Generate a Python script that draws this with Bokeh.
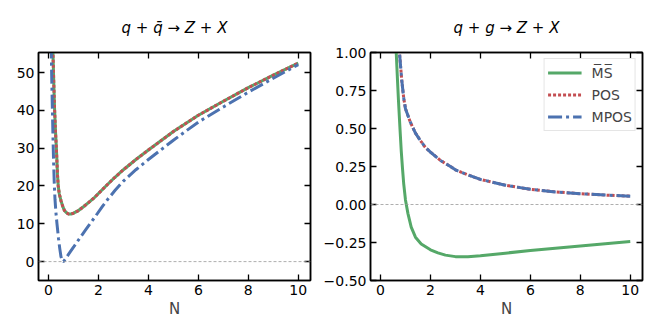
from bokeh.plotting import figure
from bokeh.layouts import row
from bokeh.models import (Range1d, FixedTicker, LinearAxis, Span, Legend, LegendItem,
                          CustomLabelingPolicy)
from bokeh.embed import file_html
from bokeh.resources import INLINE

# ---------------- data ----------------
# q + qbar -> Z + X
N_qq_ms = [0.16, 0.18, 0.2, 0.24, 0.28, 0.32, 0.36, 0.39, 0.43, 0.5, 0.57, 0.64, 0.72, 0.8,
           0.9, 1.0, 1.2, 1.4, 1.6, 1.85, 2.0, 2.3, 2.66, 3.0, 3.5, 4.0, 5.0, 6.0, 7.0, 8.0, 9.0, 10.0]
ms_qq = [60.0, 55.0, 50.0, 41.0, 34.5, 29.4, 23.0, 20.0, 18.0, 16.1, 14.6, 13.5, 12.9, 12.6,
         12.6, 12.8, 13.5, 14.5, 15.6, 17.0, 18.0, 20.0, 22.3, 24.3, 27.0, 29.5, 34.4, 38.7, 42.4, 46.0, 49.3, 52.5]
N_qq_pos = N_qq_ms
pos_qq = [60.0, 55.0, 50.0, 41.0, 34.5, 29.4, 23.0, 20.0, 18.0, 16.1, 14.6, 13.5, 12.9, 12.6,
          12.6, 12.8, 13.5, 14.5, 15.6, 17.0, 18.0, 20.0, 22.3, 24.3, 27.0, 29.5, 34.4, 38.7, 42.4, 46.0, 49.3, 52.5]
N_qq_mpos = [0.1, 0.12, 0.15, 0.18, 0.2, 0.23, 0.26, 0.3, 0.34, 0.4, 0.45, 0.5, 0.55, 0.6, 0.7, 0.8,
             1.0, 1.25, 1.5, 1.85, 2.16, 2.4, 2.66, 3.0, 3.5, 4.0, 5.0, 6.0, 7.0, 8.0, 9.0, 10.0]
mpos_qq = [64.0, 52.0, 42.0, 33.0, 27.5, 21.0, 16.5, 12.8, 10.0, 6.2, 3.5, 1.3, 0.2, 0.0, 0.9, 1.9,
           3.8, 6.2, 8.5, 11.7, 14.6, 16.7, 18.8, 21.3, 24.3, 27.0, 32.1, 36.9, 40.9, 44.8, 48.5, 52.1]

# q + g -> Z + X
N_qg_ms = [0.6, 0.63, 0.68, 0.72, 0.78, 0.83, 0.88, 0.93, 1.0, 1.1, 1.23, 1.4, 1.63, 2.0, 2.3,
           2.6, 3.0, 3.5, 4.0, 5.0, 6.0, 7.0, 8.0, 9.0, 10.0]
ms_qg = [1.12, 1.0, 0.82, 0.684, 0.5, 0.355, 0.24, 0.136, 0.03, -0.06, -0.149, -0.215, -0.26,
         -0.298, -0.318, -0.333, -0.343, -0.344, -0.337, -0.32, -0.303, -0.288, -0.273, -0.258, -0.243]
N_qg_pos = [0.7, 0.76, 0.85, 0.93, 1.0, 1.2, 1.4, 1.6, 1.8, 2.0, 2.4, 2.8, 3.0, 3.5, 4.0, 5.0,
            6.0, 7.0, 8.0, 9.0, 10.0]
pos_qg = [1.15, 1.0, 0.82, 0.70, 0.63, 0.54, 0.47, 0.42, 0.375, 0.345, 0.29, 0.25, 0.228, 0.195,
          0.165, 0.127, 0.100, 0.083, 0.071, 0.062, 0.055]
N_qg_mpos = N_qg_pos
mpos_qg = [1.15, 1.0, 0.82, 0.70, 0.63, 0.54, 0.47, 0.42, 0.375, 0.345, 0.29, 0.25, 0.228, 0.195,
           0.165, 0.127, 0.100, 0.083, 0.071, 0.062, 0.055]

x_ticks = [0, 2, 4, 6, 8, 10]
y_ticks_left = [0, 10, 20, 30, 40, 50]
y_ticks_right = [-0.5, -0.25, 0.0, 0.25, 0.5, 0.75, 1.0]
y_labels_right = ["\u22120.50", "\u22120.25", "0.00", "0.25", "0.50", "0.75", "1.00"]

titles = ["q + q\u0304 \u2192 Z + X", "q + g \u2192 Z + X"]
series_labels = ["M\u0305S\u0305", "POS", "MPOS"]

GREEN = "#55a868"
RED = "#c44e52"
BLUE = "#4c72b0"
FONT = "DejaVu Sans"

HIDE_ALL = CustomLabelingPolicy(code="""
for (const i of Array.from(indices)) { indices.unset(i) }
return indices
""")


def style_axis(ax, ticks, show_labels=True, overrides=None):
    ax.ticker = FixedTicker(ticks=ticks)
    ax.axis_line_color = "black"
    ax.axis_line_width = 1.5
    ax.major_tick_line_color = "black"
    ax.major_tick_line_width = 1.3
    ax.major_tick_in = 6
    ax.major_tick_out = 0
    ax.minor_tick_in = 0
    ax.minor_tick_out = 0
    ax.major_label_text_font = FONT
    ax.major_label_text_color = "black"
    ax.major_label_standoff = 4
    ax.axis_label_text_font = FONT
    ax.axis_label_text_font_style = "normal"
    ax.axis_label_text_font_size = "15px"
    ax.axis_label_standoff = 2
    if show_labels:
        ax.major_label_text_font_size = "14px"
    else:
        ax.major_label_text_font_size = "0px"
        ax.major_label_standoff = 0
        ax.major_label_policy = HIDE_ALL
    if overrides:
        ax.major_label_overrides = overrides


def make_fig(width, border_left, border_right, yr, yticks, title, overrides=None):
    p = figure(width=width, height=324, x_range=Range1d(-0.4, 10.49), y_range=yr,
               output_backend="svg", toolbar_location=None,
               min_border_left=border_left, min_border_right=border_right,
               min_border_top=52, min_border_bottom=44)
    p.xgrid.visible = False
    p.ygrid.visible = False
    p.outline_line_color = "black"
    p.outline_line_width = 1.5
    p.background_fill_color = "white"
    p.border_fill_color = "white"
    style_axis(p.xaxis[0], x_ticks)
    p.xaxis[0].axis_label = "N"
    style_axis(p.yaxis[0], yticks, overrides=overrides)
    top = LinearAxis()
    style_axis(top, x_ticks, show_labels=False)
    p.add_layout(top, "above")
    right = LinearAxis()
    style_axis(right, yticks, show_labels=False)
    p.add_layout(right, "right")
    p.title.text = title
    p.title.text_font = FONT
    p.title.text_font_style = "italic"
    p.title.text_font_size = "15px"
    p.title.text_color = "black"
    p.title.align = "center"
    p.title.standoff = 31
    p.add_layout(Span(location=0, dimension="width", line_color="#999999",
                      line_width=0.8, line_dash="3 2"))
    return p


p1 = make_fig(320, 38, 10, Range1d(-5, 55.3), y_ticks_left, titles[0])
p1.line(N_qq_ms, ms_qq, line_color=GREEN, line_width=3)
p1.line(N_qq_pos, pos_qq, line_color=RED, line_width=3, line_dash="3 2")
p1.line(N_qq_mpos, mpos_qq, line_color=BLUE, line_width=3, line_dash="14 4 3 4")

ov = {t: l for t, l in zip(y_ticks_right, y_labels_right)}
p2 = make_fig(336, 50, 14, Range1d(-0.5, 1.0), y_ticks_right, titles[1], overrides=ov)
r_ms = p2.line(N_qg_ms, ms_qg, line_color=GREEN, line_width=3)
r_pos = p2.line(N_qg_pos, pos_qg, line_color=RED, line_width=3, line_dash="3 2")
r_mpos = p2.line(N_qg_mpos, mpos_qg, line_color=BLUE, line_width=3, line_dash="14 4 3 4")

legend = Legend(items=[LegendItem(label=series_labels[0], renderers=[r_ms]),
                       LegendItem(label=series_labels[1], renderers=[r_pos]),
                       LegendItem(label=series_labels[2], renderers=[r_mpos])],
                location="top_right")
legend.margin = 6
legend.padding = 3
legend.spacing = 1
legend.glyph_width = 34
legend.glyph_height = 21
legend.label_standoff = 10
legend.label_width = 38
legend.label_text_font = FONT
legend.label_text_font_size = "14px"
legend.label_height = 21
legend.border_line_color = "#cccccc"
legend.border_line_width = 1
legend.background_fill_alpha = 0.85
p2.add_layout(legend)

layout = row(p1, p2)
open("out.html", "w").write(file_html(layout, INLINE))
